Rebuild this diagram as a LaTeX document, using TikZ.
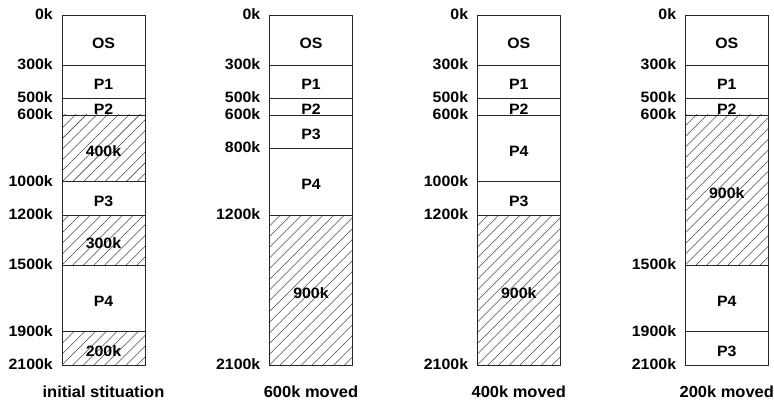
\documentclass[tikz,border=0pt]{standalone}
\usepackage{fontspec}
\setmainfont{Liberation Sans}
\newfontfamily\labfont{Liberation Sans}[FakeStretch=1.06]
\newfontfamily\capfont{Liberation Sans}[FakeStretch=1.03]
\begin{document}
\begin{tikzpicture}[x=1pt,y=-1pt,
  box/.style={draw=black!85, line width=0.8pt},
  divider/.style={draw=black!85, line width=0.8pt},
  hatchline/.style={draw=black!70, line width=0.55pt},
  addr/.style={anchor=east, inner sep=0pt, font=\labfont\bfseries\fontsize{15}{16}\selectfont},
  seg/.style={inner sep=0pt, font=\labfont\bfseries\fontsize{15}{16}\selectfont},
  caption/.style={inner sep=0pt, font=\capfont\bfseries\fontsize{16}{17}\selectfont}]
\useasboundingbox (0,0) rectangle (774,401);

% ---------- column 1: initial situation ----------
\foreach \a/\b in {600/1000,1200/1500,1900/2100} {
  \begin{scope}
    \clip (62,{15+\a/6}) rectangle (145,{15+\b/6});
    \foreach \k in {-20,...,10} \draw[hatchline] ({62+\k*10.7},{15+\b/6}) -- ++(200,-200);
  \end{scope}
}
\foreach \v in {300,500,600,1000,1200,1500,1900} \draw[divider] (62,{15+\v/6}) -- (145,{15+\v/6});
\draw[box] (62,15) rectangle (145,365);
\foreach \v in {0,300,500,600,1000,1200,1500,1900,2100} \node[addr] (a1-\v) at (53,{14.2+\v/6}) {\v k};
\foreach \a/\b/\t/\n in {0/300/OS/os,300/500/P1/p1,500/600/P2/p2,600/1000/400k/f1,1000/1200/P3/p3,1200/1500/300k/f2,1500/1900/P4/p4,1900/2100/200k/f3}
  \node[seg] (s1-\n) at (103.5,{18+(\a+\b)/12}) {\t};
\node[caption] (c1) at (103.5,392) {initial stituation};

% ---------- column 2: 600k moved ----------
\foreach \a/\b in {1200/2100} {
  \begin{scope}
    \clip (269.5,{15+\a/6}) rectangle (352.5,{15+\b/6});
    \foreach \k in {-20,...,10} \draw[hatchline] ({269.5+\k*10.7},{15+\b/6}) -- ++(200,-200);
  \end{scope}
}
\foreach \v in {300,500,600,800,1200} \draw[divider] (269.5,{15+\v/6}) -- (352.5,{15+\v/6});
\draw[box] (269.5,15) rectangle (352.5,365);
\foreach \v in {0,300,500,600,800,1200,2100} \node[addr] (a2-\v) at (260.5,{14.2+\v/6}) {\v k};
\foreach \a/\b/\t/\n in {0/300/OS/os,300/500/P1/p1,500/600/P2/p2,600/800/P3/p3,800/1200/P4/p4,1200/2100/900k/f1}
  \node[seg] (s2-\n) at (311,{18+(\a+\b)/12}) {\t};
\node[caption] (c2) at (311,392) {600k moved};

% ---------- column 3: 400k moved ----------
\foreach \a/\b in {1200/2100} {
  \begin{scope}
    \clip (477.3,{15+\a/6}) rectangle (560.3,{15+\b/6});
    \foreach \k in {-20,...,10} \draw[hatchline] ({477.3+\k*10.7},{15+\b/6}) -- ++(200,-200);
  \end{scope}
}
\foreach \v in {300,500,600,1000,1200} \draw[divider] (477.3,{15+\v/6}) -- (560.3,{15+\v/6});
\draw[box] (477.3,15) rectangle (560.3,365);
\foreach \v in {0,300,500,600,1000,1200,2100} \node[addr] (a3-\v) at (468.3,{14.2+\v/6}) {\v k};
\foreach \a/\b/\t/\n in {0/300/OS/os,300/500/P1/p1,500/600/P2/p2,600/1000/P4/p4,1000/1200/P3/p3,1200/2100/900k/f1}
  \node[seg] (s3-\n) at (518.8,{18+(\a+\b)/12}) {\t};
\node[caption] (c3) at (518.8,392) {400k moved};

% ---------- column 4: 200k moved ----------
\foreach \a/\b in {600/1500} {
  \begin{scope}
    \clip (685.3,{15+\a/6}) rectangle (768.3,{15+\b/6});
    \foreach \k in {-20,...,10} \draw[hatchline] ({685.3+\k*10.7},{15+\b/6}) -- ++(200,-200);
  \end{scope}
}
\foreach \v in {300,500,600,1500,1900} \draw[divider] (685.3,{15+\v/6}) -- (768.3,{15+\v/6});
\draw[box] (685.3,15) rectangle (768.3,365);
\foreach \v in {0,300,500,600,1500,1900,2100} \node[addr] (a4-\v) at (676.3,{14.2+\v/6}) {\v k};
\foreach \a/\b/\t/\n in {0/300/OS/os,300/500/P1/p1,500/600/P2/p2,600/1500/900k/f1,1500/1900/P4/p4,1900/2100/P3/p3}
  \node[seg] (s4-\n) at (726.8,{18+(\a+\b)/12}) {\t};
\node[caption] (c4) at (726.8,392) {200k moved};
\end{tikzpicture}
\end{document}
